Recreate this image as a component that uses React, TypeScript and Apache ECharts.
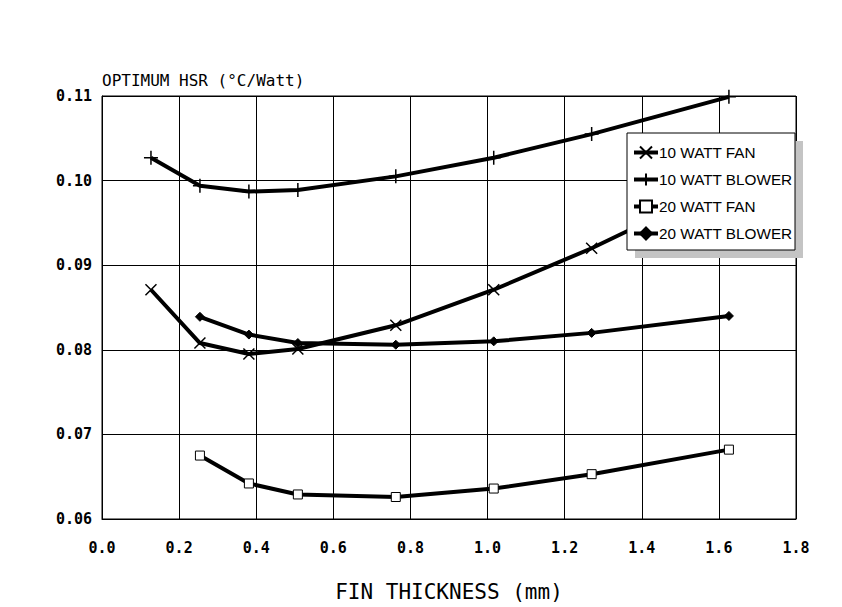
import { useEffect, useRef } from "react";
import * as echarts from "echarts";

// fin thickness (mm) for each measured point
const thickness = [0.127, 0.254, 0.381, 0.508, 0.762, 1.016, 1.27, 1.626];

const fan10 = [0.0871, 0.0808, 0.0795, 0.0801, 0.0829, 0.0871, 0.092, 0.0998];
const blower10 = [0.1027, 0.0994, 0.0987, 0.0989, 0.1005, 0.1027, 0.1055, 0.1099];
// the 20 W runs start at the second thickness
const fan20 = [0.0675, 0.0642, 0.0629, 0.0626, 0.0636, 0.0653, 0.0682];
const blower20 = [0.0839, 0.0818, 0.0808, 0.0806, 0.081, 0.082, 0.084];

const seriesNames = ["10 WATT FAN", "10 WATT BLOWER", "20 WATT FAN", "20 WATT BLOWER"];

const pairs = (xs: number[], ys: number[]) => ys.map((y, i) => [xs[i], y]);

const MONO = "'DejaVu Sans Mono', monospace";

export default function App() {
  const chartRef = useRef<HTMLDivElement>(null);

  useEffect(() => {
    document.body.style.margin = "0";
    if (!chartRef.current) return;
    const chart = echarts.init(chartRef.current, null, { renderer: "svg" });

    const base = {
      type: "line" as const,
      color: "#000",
      lineStyle: { color: "#000", width: 4 },
      z: 2,
    };

    chart.setOption({
      animation: false,
      backgroundColor: "#fff",
      grid: {
        left: 102,
        right: 46,
        top: 96,
        bottom: 87,
        show: true,
        borderColor: "#000",
        borderWidth: 1,
      },
      xAxis: {
        type: "value",
        min: 0,
        max: 1.8,
        interval: 0.2,
        name: "FIN THICKNESS (mm)",
        nameLocation: "middle",
        nameGap: 62,
        nameTextStyle: { fontFamily: MONO, fontSize: 21, color: "#000" },
        axisLine: { lineStyle: { color: "#000", width: 1 } },
        axisTick: { show: false },
        splitLine: { lineStyle: { color: "#000", width: 1 } },
        axisLabel: {
          margin: 21,
          color: "#000",
          fontFamily: MONO,
          fontSize: 15,
          fontWeight: "bold",
          formatter: (v: number) => v.toFixed(1),
        },
      },
      yAxis: {
        type: "value",
        min: 0.06,
        max: 0.11,
        interval: 0.01,
        name: "OPTIMUM HSR (°C/Watt)",
        nameLocation: "end",
        nameGap: 8,
        nameTextStyle: {
          fontFamily: MONO,
          fontSize: 16,
          color: "#000",
          align: "left",
        },
        axisLine: { lineStyle: { color: "#000", width: 1 } },
        axisTick: { show: false },
        splitLine: { lineStyle: { color: "#000", width: 1 } },
        axisLabel: {
          margin: 10,
          color: "#000",
          fontFamily: MONO,
          fontSize: 15,
          fontWeight: "bold",
          formatter: (v: number) => v.toFixed(2),
        },
      },
      legend: {
        orient: "vertical",
        left: 627,
        top: 140,
        itemGap: 12,
        itemWidth: 24,
        itemHeight: 15,
        z: 5,
        data: seriesNames,
        lineStyle: { width: 4 },
        textStyle: {
          fontFamily: "'Liberation Sans', Arial, sans-serif",
          fontSize: 15.3,
          color: "#000",
          padding: [0, 0, 0, -4],
        },
      },
      graphic: [
        {
          type: "rect",
          z: 4,
          shape: { x: 635, y: 141, width: 168, height: 117 },
          style: { fill: "#c4c4c4" },
        },
        {
          type: "rect",
          z: 4,
          shape: { x: 627, y: 133, width: 168, height: 117 },
          style: { fill: "#fff", stroke: "#000", lineWidth: 1 },
        },
      ],
      series: [
        {
          ...base,
          name: seriesNames[0],
          data: pairs(thickness, fan10),
          symbol: "path://M0,0L10,10M10,0L0,10",
          symbolSize: 11,
          itemStyle: { color: "#000", borderColor: "#000", borderWidth: 1.5 },
        },
        {
          ...base,
          name: seriesNames[1],
          data: pairs(thickness, blower10),
          symbol: "path://M5,0L5,10M0,5L10,5",
          symbolSize: 14,
          itemStyle: { color: "#000", borderColor: "#000", borderWidth: 1.5 },
        },
        {
          ...base,
          name: seriesNames[2],
          data: pairs(thickness.slice(1), fan20),
          symbol: "rect",
          symbolSize: 9,
          itemStyle: { color: "#fff", borderColor: "#000", borderWidth: 1 },
        },
        {
          ...base,
          name: seriesNames[3],
          data: pairs(thickness.slice(1), blower20),
          symbol: "diamond",
          symbolSize: 9,
          itemStyle: { color: "#000", borderColor: "#000", borderWidth: 1 },
        },
      ],
    });

    return () => chart.dispose();
  }, []);

  return <div ref={chartRef} style={{ width: 842, height: 607 }} />;
}
